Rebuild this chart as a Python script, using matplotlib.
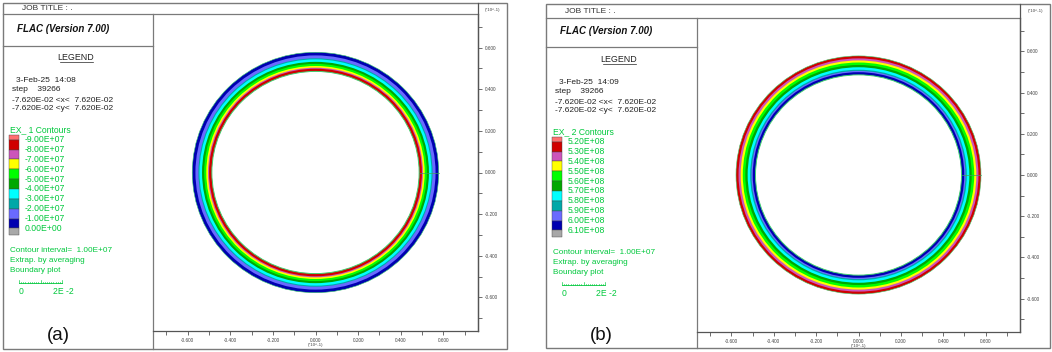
import matplotlib
matplotlib.use("Agg")
import matplotlib.pyplot as plt
from matplotlib.patches import Circle, Rectangle
from matplotlib.ticker import MultipleLocator, FormatStrFormatter

plt.rcParams['font.family'] = ['Liberation Sans', 'DejaVu Sans']

W, H = 1052, 352

# legend swatch colours (top to bottom, as FLAC prints them)
contour_colors = ['#ff7070', '#d00000', '#cc55bb', '#ffff00', '#00ff00', '#00a800',
                  '#00ffff', '#00a8a8', '#6a6aff', '#0000b0', '#a8a8a8']
labels_a = ['-9.00E+07', '-8.00E+07', '-7.00E+07', '-6.00E+07', '-5.00E+07',
            '-4.00E+07', '-3.00E+07', '-2.00E+07', '-1.00E+07', '0.00E+00']
labels_b = ['5.20E+08', '5.30E+08', '5.40E+08', '5.50E+08', '5.60E+08',
            '5.70E+08', '5.80E+08', '5.90E+08', '6.00E+08', '6.10E+08']

# contour bands of the lining, inner radius -> outer radius (*10^-1 m)
ring_edges_a = [0.486, 0.499, 0.504, 0.512, 0.522, 0.532, 0.544, 0.549, 0.563, 0.578]
ring_colors_a = [1, 2, 3, 4, 5, 6, 7, 8, 9]
ring_edges_b = [0.486, 0.499, 0.505, 0.511, 0.523, 0.534, 0.546, 0.556, 0.566, 0.578]
ring_colors_b = [9, 8, 7, 6, 5, 4, 3, 2, 1]

lim = 0.762
green = '#00c83c'
line_gray = '#7a7a7a'

panels = [
    dict(x0=3, y0=3, x1=507, y1=349, head=14, div=153, right=478, bottom=331, flac=46,
         date='3-Feb-25  14:08', name='EX_ 1 Contours', labels=labels_a,
         edges=ring_edges_a, colors=ring_colors_a, tag='(a)', dy=0),
    dict(x0=546, y0=4, x1=1050, y1=348, head=18, div=697, right=1020, bottom=332, flac=47,
         date='3-Feb-25  14:09', name='EX_ 2 Contours', labels=labels_b,
         edges=ring_edges_b, colors=ring_colors_b, tag='(b)', dy=2),
]

fig = plt.figure(figsize=(W / 100, H / 100), dpi=100)
ov = fig.add_axes([0, 0, 1, 1])
ov.set_xlim(0, W)
ov.set_ylim(H, 0)
ov.axis('off')


def hl(y, xa, xb, **kw):
    ov.plot([xa, xb], [y, y], color=kw.get('c', line_gray), lw=kw.get('lw', 0.9))


def vl(x, ya, yb, **kw):
    ov.plot([x, x], [ya, yb], color=kw.get('c', line_gray), lw=kw.get('lw', 0.9))


for p in panels:
    x0, y0, x1, y1 = p['x0'], p['y0'], p['x1'], p['y1']
    dy = p['dy']
    lx = x0  # legend column left edge
    # frame
    ov.add_patch(Rectangle((x0, y0), x1 - x0, y1 - y0, fill=False, ec=line_gray, lw=1.0))
    hl(p['head'], x0, p['right'])
    vl(p['right'], y0, p['bottom'], c='#555555')
    vl(p['div'], p['head'], y1)
    hl(p['flac'], x0, p['div'])

    # header texts
    ov.text(lx + 19, (y0 + p['head']) / 2 + 0.5, 'JOB TITLE : .', fontsize=6, color='#333333',
            va='center', ha='left')
    ov.text(lx + 14, 29 + dy, 'FLAC (Version 7.00)', fontsize=7, fontweight='bold',
            fontstyle='italic', color='#111111', va='center', ha='left')
    ov.text(lx + 73, 57 + dy, 'LEGEND', fontsize=6.4, color='#222222', va='center', ha='center')
    hl(62 + dy, lx + 57, lx + 90, c='#222222', lw=0.5)

    info = [p['date'], 'step    39266', '-7.620E-02 <x<  7.620E-02', '-7.620E-02 <y<  7.620E-02']
    info_y = [81, 89.5, 100, 109]
    for i, (t, yy) in enumerate(zip(info, info_y)):
        ov.text(lx + (13 if i == 0 else 9), yy + dy, t, fontsize=6,
                color='#222222', va='center', ha='left')

    # contour legend
    ov.text(lx + 7, 130 + dy, p['name'], fontsize=6.2, color=green, va='center', ha='left')
    top = 135 + dy
    step = 9.85
    bounds = [top] + [top + 4.7 + step * i for i in range(10)] + [top + 4.7 + step * 9 + 7]
    for i, col in enumerate(contour_colors):
        ov.add_patch(Rectangle((lx + 6, bounds[i]), 10, bounds[i + 1] - bounds[i],
                               fc=col, ec='#444444', lw=0.3))
    for i, lab in enumerate(p['labels']):
        ov.text(lx + 22, bounds[i + 1], lab, fontsize=6.2, color=green, va='center', ha='left')

    ov.text(lx + 7, 250 + dy, 'Contour interval=  1.00E+07', fontsize=5.9, color=green,
            va='center', ha='left')
    ov.text(lx + 7, 261 + dy, 'Extrap. by averaging', fontsize=5.9, color=green,
            va='center', ha='left')
    ov.text(lx + 7, 271 + dy, 'Boundary plot', fontsize=5.9, color=green, va='center', ha='left')
    # scale bar
    sb0, sb1, sby = lx + 16, lx + 59, 283 + dy
    hl(sby, sb0, sb1, c=green, lw=0.6)
    for k in range(21):
        xx = sb0 + (sb1 - sb0) * k / 20
        vl(xx, sby, sby - (2.8 if k in (0, 10, 20) else 1.5), c=green, lw=0.45)
    ov.text(lx + 18, 292 + dy, '0', fontsize=6.2, color=green, va='center', ha='center')
    ov.text(lx + 60, 292 + dy, '2E -2', fontsize=6.2, color=green, va='center', ha='center')

    ov.text(lx + 55, 336, p['tag'], fontsize=13.5, color='#111111', va='center', ha='center')

    # axis scale texts
    ov.text((p['right'] + x1) / 2, y0 + 7, '(*10^-1)', fontsize=3.2, color='#444444',
            va='center', ha='center')
    ov.text((p['div'] + p['right']) / 2, p['bottom'] + 14, '(*10^-1)', fontsize=3.2,
            color='#444444', va='center', ha='center')

    # plot area
    ax = fig.add_axes([p['div'] / W, 1 - p['bottom'] / H, (p['right'] - p['div']) / W,
                       (p['bottom'] - p['head']) / H])
    ax.set_facecolor('none')
    ax.set_xlim(-lim, lim)
    ax.set_ylim(-lim, lim)
    for s in ['left', 'top']:
        ax.spines[s].set_visible(False)
    for s in ['bottom', 'right']:
        ax.spines[s].set_color('#555555')
        ax.spines[s].set_linewidth(0.9)
    ax.xaxis.set_ticks_position('bottom')
    ax.yaxis.set_ticks_position('right')
    for a in (ax.xaxis, ax.yaxis):
        a.set_major_locator(MultipleLocator(0.2))
        a.set_minor_locator(MultipleLocator(0.1))
        a.set_major_formatter(FormatStrFormatter('%.3f'))
    ax.tick_params(which='both', direction='out', length=3, width=0.6, colors='#555555',
                   labelsize=3.4, labelcolor='#444444', pad=2)

    edges = p['edges']
    for k in range(len(p['colors']) - 1, -1, -1):
        ax.add_patch(Circle((0, 0), edges[k + 1], fc=contour_colors[p['colors'][k]],
                            ec='none', zorder=2))
    ax.add_patch(Circle((0, 0), edges[0], fc='white', ec='none', zorder=3))
    ax.add_patch(Circle((0, 0), edges[0], fill=False, ec='#40d070', lw=0.7, zorder=4))
    ax.add_patch(Circle((0, 0), edges[-1], fill=False, ec='#40d070', lw=0.4, zorder=4))
    ax.plot([edges[0], edges[-1]], [0, 0], color='#40a060', lw=0.5, zorder=5)

fig.savefig('out.png', dpi=100)
